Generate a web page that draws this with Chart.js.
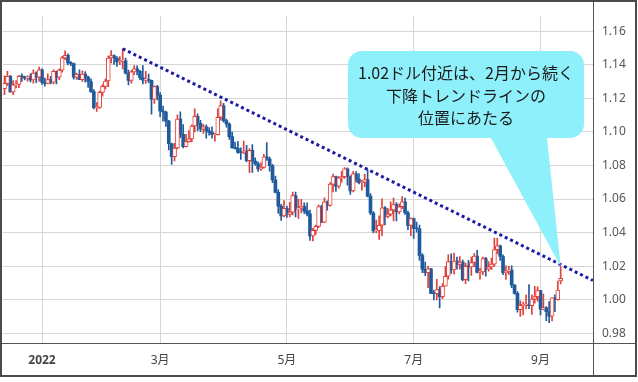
<!DOCTYPE html>
<html><head><meta charset="utf-8">
<script src="https://cdn.jsdelivr.net/npm/chart.js@4.4.1/dist/chart.umd.min.js"></script>
<style>html,body{margin:0;padding:0;background:#fff;}#wrap{width:638px;height:382px;}</style>
</head><body><div id="wrap"><canvas id="c" width="638" height="382"></canvas></div>
<script>
const dates = [
'2021-12-15','2021-12-16','2021-12-17','2021-12-20','2021-12-21','2021-12-22','2021-12-23','2021-12-24','2021-12-27','2021-12-28','2021-12-29','2021-12-30','2021-12-31',
'2022-01-03','2022-01-04','2022-01-05','2022-01-06','2022-01-07','2022-01-10','2022-01-11','2022-01-12','2022-01-13','2022-01-14','2022-01-17','2022-01-18','2022-01-19','2022-01-20','2022-01-21','2022-01-24','2022-01-25','2022-01-26','2022-01-27','2022-01-28','2022-01-31',
'2022-02-01','2022-02-02','2022-02-03','2022-02-04','2022-02-07','2022-02-08','2022-02-09','2022-02-10','2022-02-11','2022-02-14','2022-02-15','2022-02-16','2022-02-17','2022-02-18','2022-02-21','2022-02-22','2022-02-23','2022-02-24','2022-02-25','2022-02-28',
'2022-03-01','2022-03-02','2022-03-03','2022-03-04','2022-03-07','2022-03-08','2022-03-09','2022-03-10','2022-03-11','2022-03-14','2022-03-15','2022-03-16','2022-03-17','2022-03-18','2022-03-21','2022-03-22','2022-03-23','2022-03-24','2022-03-25','2022-03-28','2022-03-29','2022-03-30','2022-03-31',
'2022-04-01','2022-04-04','2022-04-05','2022-04-06','2022-04-07','2022-04-08','2022-04-11','2022-04-12','2022-04-13','2022-04-14','2022-04-15','2022-04-18','2022-04-19','2022-04-20','2022-04-21','2022-04-22','2022-04-25','2022-04-26','2022-04-27','2022-04-28','2022-04-29',
'2022-05-02','2022-05-03','2022-05-04','2022-05-05','2022-05-06','2022-05-09','2022-05-10','2022-05-11','2022-05-12','2022-05-13','2022-05-16','2022-05-17','2022-05-18','2022-05-19','2022-05-20','2022-05-23','2022-05-24','2022-05-25','2022-05-26','2022-05-27','2022-05-30','2022-05-31',
'2022-06-01','2022-06-02','2022-06-03','2022-06-06','2022-06-07','2022-06-08','2022-06-09','2022-06-10','2022-06-13','2022-06-14','2022-06-15','2022-06-16','2022-06-17','2022-06-20','2022-06-21','2022-06-22','2022-06-23','2022-06-24','2022-06-27','2022-06-28','2022-06-29','2022-06-30',
'2022-07-01','2022-07-04','2022-07-05','2022-07-06','2022-07-07','2022-07-08','2022-07-11','2022-07-12','2022-07-13','2022-07-14','2022-07-15','2022-07-18','2022-07-19','2022-07-20','2022-07-21','2022-07-22','2022-07-25','2022-07-26','2022-07-27','2022-07-28','2022-07-29',
'2022-08-01','2022-08-02','2022-08-03','2022-08-04','2022-08-05','2022-08-08','2022-08-09','2022-08-10','2022-08-11','2022-08-12','2022-08-15','2022-08-16','2022-08-17','2022-08-18','2022-08-19','2022-08-22','2022-08-23','2022-08-24','2022-08-25','2022-08-26','2022-08-29','2022-08-30','2022-08-31',
'2022-09-01','2022-09-02','2022-09-05','2022-09-06','2022-09-07','2022-09-08','2022-09-09','2022-09-12'];

const open = [
1.1257,1.1289,1.1330,1.1238,1.1280,1.1282,1.1330,1.1327,1.1320,1.1328,1.1310,1.1350,1.1325,
1.1370,1.1296,1.1288,1.1312,1.1296,1.1360,1.1326,1.1368,1.1441,1.1455,1.1411,1.1407,1.1325,1.1343,1.1311,1.1344,1.1326,1.1300,1.1240,1.1144,1.1145,
1.1235,1.1271,1.1303,1.1440,1.1454,1.1440,1.1416,1.1421,1.1425,1.1350,1.1306,1.1357,1.1375,1.1361,1.1322,1.1308,1.1308,1.1307,1.1195,1.1269,
1.1219,1.1124,1.1118,1.1064,1.0929,1.0853,1.0904,1.1076,1.0985,1.0912,1.0942,1.0958,1.1035,1.1092,1.1051,1.1016,1.1030,1.1006,1.0997,1.0983,1.0984,1.1087,1.1157,
1.1067,1.1047,1.0972,1.0904,1.0902,1.0877,1.0876,1.0886,1.0829,1.0890,1.0826,1.0810,1.0780,1.0789,1.0852,1.0838,1.0798,1.0714,1.0640,1.0558,1.0499,
1.0545,1.0508,1.0522,1.0620,1.0541,1.0547,1.0557,1.0530,1.0512,1.0381,1.0413,1.0437,1.0555,1.0462,1.0584,1.0562,1.0689,1.0733,1.0677,1.0726,1.0733,1.0780,
1.0734,1.0648,1.0750,1.0719,1.0697,1.0701,1.0716,1.0617,1.0517,1.0410,1.0412,1.0444,1.0548,1.0496,1.0510,1.0535,1.0567,1.0523,1.0554,1.0583,1.0518,1.0443,
1.0484,1.0425,1.0423,1.0265,1.0182,1.0161,1.0184,1.0038,1.0036,1.0061,1.0018,1.0081,1.0140,1.0227,1.0178,1.0230,1.0211,1.0224,1.0120,1.0199,1.0196,
1.0222,1.0260,1.0163,1.0166,1.0245,1.0182,1.0196,1.0212,1.0299,1.0321,1.0258,1.0161,1.0171,1.0177,1.0087,1.0038,0.9941,0.9967,0.9969,0.9973,0.9965,1.0004,1.0019,
1.0055,0.9944,0.9954,0.9929,0.9903,1.0012,1.0001,1.0112];

const high = [
1.1334,1.1360,1.1337,1.1306,1.1305,1.1337,1.1346,1.1332,1.1333,1.1345,1.1369,1.1358,1.1386,
1.1376,1.1320,1.1346,1.1330,1.1369,1.1362,1.1375,1.1450,1.1482,1.1464,1.1419,1.1410,1.1350,1.1369,1.1364,1.1359,1.1332,1.1316,1.1252,1.1174,1.1243,
1.1282,1.1315,1.1451,1.1484,1.1458,1.1448,1.1449,1.1495,1.1440,1.1368,1.1367,1.1395,1.1393,1.1366,1.1395,1.1360,1.1344,1.1309,1.1274,1.1277,
1.1234,1.1154,1.1124,1.1068,1.0933,1.0932,1.1102,1.1120,1.1043,1.0985,1.1008,1.1042,1.1137,1.1108,1.1068,1.1045,1.1042,1.1025,1.1030,1.0993,1.1137,1.1185,1.1170,
1.1076,1.1054,1.0998,1.0939,1.0944,1.0905,1.0945,1.0920,1.0900,1.0924,1.0846,1.0821,1.0815,1.0866,1.0936,1.0850,1.0807,1.0737,1.0656,1.0568,1.0591,
1.0558,1.0580,1.0641,1.0642,1.0600,1.0598,1.0578,1.0578,1.0535,1.0425,1.0445,1.0565,1.0564,1.0607,1.0589,1.0698,1.0748,1.0737,1.0734,1.0765,1.0787,1.0786,
1.0738,1.0765,1.0764,1.0752,1.0711,1.0749,1.0774,1.0632,1.0525,1.0474,1.0500,1.0601,1.0555,1.0545,1.0583,1.0606,1.0579,1.0572,1.0615,1.0606,1.0528,1.0488,
1.0486,1.0463,1.0445,1.0275,1.0224,1.0200,1.0187,1.0057,1.0122,1.0079,1.0096,1.0200,1.0269,1.0274,1.0278,1.0255,1.0257,1.0237,1.0218,1.0235,1.0254,
1.0275,1.0294,1.0187,1.0254,1.0253,1.0228,1.0248,1.0368,1.0368,1.0326,1.0268,1.0202,1.0201,1.0203,1.0091,1.0049,0.9994,0.9987,1.0028,1.0090,1.0029,1.0080,1.0078,
1.0056,1.0034,0.9960,0.9989,1.0012,1.0030,1.0112,1.0198];

const low = [
1.1222,1.1276,1.1236,1.1222,1.1262,1.1263,1.1300,1.1310,1.1302,1.1298,1.1290,1.1293,1.1300,
1.1283,1.1272,1.1285,1.1285,1.1286,1.1285,1.1311,1.1355,1.1430,1.1398,1.1394,1.1314,1.1313,1.1313,1.1300,1.1296,1.1264,1.1235,1.1136,1.1121,1.1140,
1.1213,1.1256,1.1269,1.1410,1.1402,1.1390,1.1400,1.1375,1.1345,1.1280,1.1290,1.1340,1.1339,1.1311,1.1285,1.1288,1.1293,1.1106,1.1170,1.1190,
1.1090,1.1063,1.1032,1.0892,1.0806,1.0827,1.0899,1.0966,1.0905,1.0910,1.0938,1.0940,1.1000,1.1007,1.1001,1.0990,1.0963,1.0980,1.0962,1.0945,1.0982,1.1070,1.1058,
1.1028,1.0955,1.0903,1.0897,1.0872,1.0836,1.0870,1.0821,1.0757,1.0758,1.0800,1.0764,1.0770,1.0784,1.0830,1.0766,1.0697,1.0636,1.0514,1.0472,1.0494,
1.0491,1.0494,1.0505,1.0493,1.0484,1.0518,1.0514,1.0499,1.0354,1.0350,1.0389,1.0430,1.0460,1.0460,1.0533,1.0557,1.0643,1.0645,1.0664,1.0700,1.0723,1.0682,
1.0627,1.0643,1.0701,1.0690,1.0653,1.0674,1.0613,1.0507,1.0398,1.0398,1.0359,1.0382,1.0446,1.0487,1.0500,1.0469,1.0470,1.0511,1.0543,1.0509,1.0417,1.0382,
1.0366,1.0402,1.0235,1.0162,1.0144,1.0072,1.0037,0.9999,0.9999,0.9952,1.0007,1.0081,1.0123,1.0157,1.0153,1.0183,1.0183,1.0112,1.0096,1.0112,1.0145,
1.0197,1.0160,1.0123,1.0150,1.0141,1.0170,1.0181,1.0200,1.0273,1.0234,1.0150,1.0122,1.0151,1.0073,1.0034,0.9926,0.9901,0.9910,0.9946,0.9947,0.9913,0.9980,0.9992,
0.9910,0.9940,0.9876,0.9864,0.9875,0.9930,0.9998,1.0095];

const close = [
1.1289,1.1330,1.1238,1.1280,1.1282,1.1330,1.1327,1.1320,1.1328,1.1310,1.1350,1.1325,1.1370,
1.1296,1.1288,1.1312,1.1296,1.1360,1.1326,1.1368,1.1441,1.1455,1.1411,1.1407,1.1325,1.1343,1.1311,1.1344,1.1326,1.1300,1.1240,1.1144,1.1145,1.1235,
1.1271,1.1303,1.1440,1.1454,1.1440,1.1416,1.1421,1.1425,1.1350,1.1306,1.1357,1.1375,1.1361,1.1322,1.1308,1.1308,1.1307,1.1195,1.1269,1.1219,
1.1124,1.1118,1.1064,1.0929,1.0853,1.0904,1.1076,1.0985,1.0912,1.0942,1.0958,1.1035,1.1092,1.1051,1.1016,1.1030,1.1006,1.0997,1.0983,1.0984,1.1087,1.1157,1.1067,
1.1047,1.0972,1.0904,1.0902,1.0877,1.0876,1.0886,1.0829,1.0890,1.0826,1.0810,1.0780,1.0789,1.0852,1.0838,1.0798,1.0714,1.0640,1.0558,1.0499,1.0545,
1.0508,1.0522,1.0620,1.0541,1.0547,1.0557,1.0530,1.0512,1.0381,1.0413,1.0437,1.0555,1.0462,1.0584,1.0562,1.0689,1.0733,1.0677,1.0726,1.0733,1.0780,1.0734,
1.0648,1.0750,1.0719,1.0697,1.0701,1.0716,1.0617,1.0517,1.0410,1.0412,1.0444,1.0548,1.0496,1.0510,1.0535,1.0567,1.0523,1.0554,1.0583,1.0518,1.0443,1.0484,
1.0425,1.0423,1.0265,1.0182,1.0161,1.0184,1.0038,1.0036,1.0061,1.0018,1.0081,1.0140,1.0227,1.0178,1.0230,1.0211,1.0224,1.0120,1.0199,1.0196,1.0222,
1.0260,1.0163,1.0166,1.0245,1.0182,1.0196,1.0212,1.0299,1.0321,1.0258,1.0161,1.0171,1.0177,1.0087,1.0038,0.9941,0.9967,0.9969,0.9973,0.9965,1.0004,1.0019,1.0055,
0.9944,0.9954,0.9929,0.9903,1.0012,1.0001,1.0058,1.0128];

const yTickValues = [0.98,1.00,1.02,1.04,1.06,1.08,1.10,1.12,1.14,1.16];
const xTickDates = ['2022-01-03','2022-03-01','2022-05-02','2022-07-01','2022-09-01'];
const xTickLabels = ['2022','3月','5月','7月','9月'];
// trend line: from the Feb 10 high, extended past the last bar
const trendIndex = [41, 204.2];
const trendValue = [1.1495, 1.0115];
const calloutLines = ['1.02ドル付近は、2月から続く','下降トレンドラインの','位置にあたる'];
const calloutTarget = '2022-09-12';

const RED = '#e2403a', BLUE = '#1f5b9c';
const upBody = [], dnBody = [], upWick = [], dnWick = [];
dates.forEach((d, i) => {
  const up = close[i] >= open[i];
  (up ? upBody : dnBody).push({x: i, y: [open[i], close[i]]});
  (up ? upWick : dnWick).push({x: i, y: [low[i], high[i]]});
});
const xTickIdx = xTickDates.map(d => dates.indexOf(d));

const framePlugin = {
  id: 'frame',
  afterDraw(chart) {
    const c = chart.ctx, a = chart.chartArea;
    c.save();
    // callout
    const bx = 348, by = 51, bw = 236, bh = 87, r = 14;
    const tipX = chart.scales.x.getPixelForValue(dates.indexOf(calloutTarget));
    const tipY = chart.scales.y.getPixelForValue(high[dates.indexOf(calloutTarget)]);
    c.fillStyle = '#8ef0fb';
    c.beginPath();
    c.moveTo(bx + r, by);
    c.lineTo(bx + bw - r, by); c.arcTo(bx + bw, by, bx + bw, by + r, r);
    c.lineTo(bx + bw, by + bh - r); c.arcTo(bx + bw, by + bh, bx + bw - r, by + bh, r);
    c.lineTo(547, by + bh); c.lineTo(tipX, tipY); c.lineTo(491, by + bh);
    c.lineTo(bx + r, by + bh); c.arcTo(bx, by + bh, bx, by + bh - r, r);
    c.lineTo(bx, by + r); c.arcTo(bx, by, bx + r, by, r);
    c.closePath(); c.fill();
    c.fillStyle = '#1a1a1a';
    c.font = '16px "Noto Sans CJK JP"';
    c.textAlign = 'center'; c.textBaseline = 'middle';
    calloutLines.forEach((t, k) => c.fillText(t, bx + bw / 2, 73 + k * 22.5));
    // separators and frame
    c.strokeStyle = '#555'; c.lineWidth = 1;
    c.beginPath();
    c.moveTo(2, Math.round(a.bottom) + 0.5); c.lineTo(636, Math.round(a.bottom) + 0.5);
    c.moveTo(Math.round(a.right) + 0.5, 2); c.lineTo(Math.round(a.right) + 0.5, 376);
    c.stroke();
    c.strokeStyle = '#4a4a4a'; c.lineWidth = 2;
    c.strokeRect(1, 1, 635, 375);
    c.restore();
  }
};

new Chart(document.getElementById('c'), {
  type: 'bar',
  data: {
    datasets: [
      {type: 'line', data: trendIndex.map((x, k) => ({x, y: trendValue[k]})), borderColor: '#1a1aa6', borderWidth: 3, borderDash: [3, 3], pointRadius: 0, fill: false, tension: 0},
      {data: upBody, backgroundColor: '#ffffff', borderColor: RED, borderWidth: 1, borderSkipped: false, barThickness: 4, grouped: false, minBarLength: 1},
      {data: dnBody, backgroundColor: BLUE, borderWidth: 0, barThickness: 3, grouped: false, minBarLength: 1},
      {data: upWick, backgroundColor: RED, borderWidth: 0, barThickness: 1, grouped: false},
      {data: dnWick, backgroundColor: BLUE, borderWidth: 0, barThickness: 1, grouped: false}
    ]
  },
  options: {
    responsive: false, animation: false, devicePixelRatio: 1,
    layout: {padding: {left: 3, top: 3, right: 2, bottom: 6}},
    plugins: {legend: {display: false}, tooltip: {enabled: false}},
    scales: {
      x: {
        type: 'linear', min: -0.535, max: 204.22, offset: false,
        afterBuildTicks: s => { s.ticks = xTickIdx.map(v => ({value: v})); },
        afterFit: s => { s.height = 33; },
        grid: {color: '#d6d6d6', drawTicks: false, offset: false},
        border: {display: false},
        ticks: {
          padding: 10, autoSkip: false, maxRotation: 0,
          callback: (v, i) => xTickLabels[i],
          color: '#444',
          font: ctx => ({family: '"Noto Sans", "Noto Sans CJK JP"', size: 12, weight: (ctx.tick && ctx.tick.label === '2022') ? 'bold' : 'normal'})
        }
      },
      y: {
        type: 'linear', position: 'right', min: 0.97428, max: 1.16887,
        afterBuildTicks: s => { s.ticks = yTickValues.map(v => ({value: v})); },
        afterFit: s => { s.width = 43; },
        grid: {color: '#d6d6d6', drawTicks: false},
        border: {display: false},
        ticks: {padding: 9, color: '#555', font: {family: '"Noto Sans"', size: 12}, callback: v => v.toFixed(2)}
      }
    }
  },
  plugins: [framePlugin]
});
</script></body></html>
